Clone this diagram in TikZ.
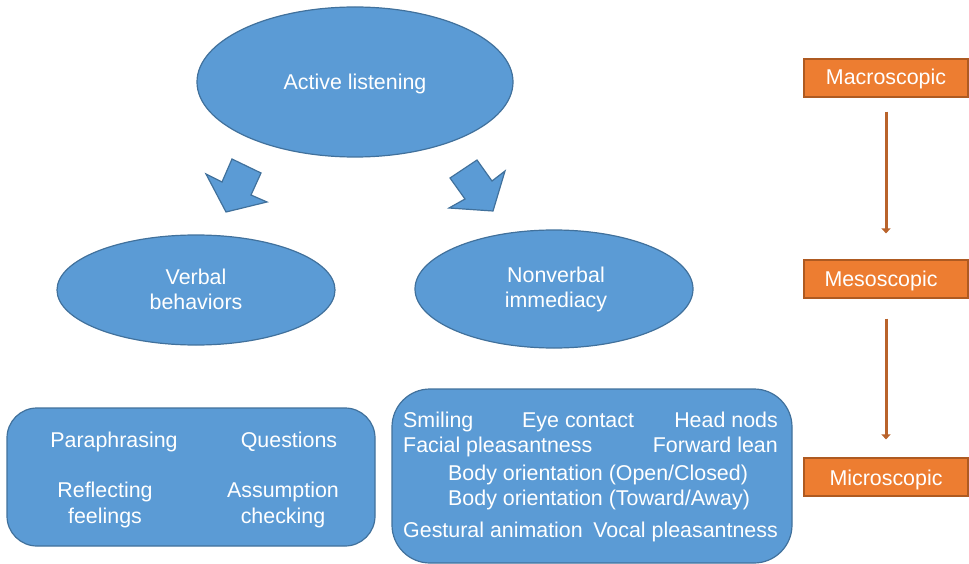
\documentclass[tikz,border=0pt]{standalone}
\usepackage{fontspec}
\setmainfont{Liberation Sans}
\usetikzlibrary{shapes.geometric,arrows.meta}
\definecolor{blueFill}{HTML}{5B9BD5}
\definecolor{blueEdge}{HTML}{41719C}
\definecolor{orangeFill}{HTML}{ED7D31}
\definecolor{orangeEdge}{HTML}{AE5A21}
\definecolor{levelArrow}{HTML}{B9632B}
\begin{document}
\begin{tikzpicture}[x=1pt,y=-1pt,
  lbl/.style={text=white,font=\fontsize{21.4}{25}\selectfont,inner sep=0pt,anchor=base},
  lblL/.style={lbl,anchor=base west},
  lblR/.style={lbl,anchor=base east},
  oval/.style={ellipse,draw=blueEdge,fill=blueFill,line width=1.2pt,inner sep=0pt},
  panel/.style={rectangle,draw=blueEdge,fill=blueFill,line width=1.2pt,inner sep=0pt},
  level/.style={rectangle,draw=orangeEdge,fill=orangeFill,line width=1.2pt,inner sep=0pt,
    minimum width=164pt,minimum height=38pt},
  blockarrow/.style={draw=blueEdge,fill=blueFill,line width=1.2pt,line join=miter},
  down/.style={draw=levelArrow,line width=3pt,-{Triangle[width=9pt,length=5pt]}}
]
\useasboundingbox (0,0) rectangle (969,564);

% top concept and its two branches
\node[oval,minimum width=316pt,minimum height=150pt] (active) at (355,82) {};
\node[lbl] (activeT) at (355,90) {Active listening};

\node[oval,minimum width=278pt,minimum height=110pt] (verbal) at (196,290) {};
\node[lbl] (verbalA) at (196,284) {Verbal};
\node[lbl] (verbalB) at (196,309) {behaviors};

\node[oval,minimum width=278pt,minimum height=118pt] (nonverbal) at (554,289) {};
\node[lbl] (nonverbalA) at (556,282) {Nonverbal};
\node[lbl] (nonverbalB) at (556,307) {immediacy};

% block arrows
\filldraw[blockarrow] (232,159) -- (261,173) -- (251,195) -- (267,202) -- (226,212)
  -- (206,174) -- (222,182) -- cycle;
\filldraw[blockarrow] (450,178) -- (477,160) -- (492,181) -- (505,171) -- (493,211)
  -- (449,208) -- (465,199) -- cycle;

% verbal behaviours panel
\node[panel,rounded corners=30pt,minimum width=368pt,minimum height=138pt] (vpanel) at (191,477) {};
\node[lbl] (para) at (114,447) {Paraphrasing};
\node[lbl] (quest) at (289,447) {Questions};
\node[lbl] (reflA) at (105,497) {Reflecting};
\node[lbl] (reflB) at (105,523) {feelings};
\node[lbl] (assA) at (283,497) {Assumption};
\node[lbl] (assB) at (283,523) {checking};

% nonverbal immediacy panel
\node[panel,rounded corners=38pt,minimum width=400pt,minimum height=174pt] (npanel) at (592,476) {};
\node[lblL] (smile) at (403,427) {Smiling};
\node[lblL] (eye) at (522,427) {Eye contact};
\node[lblR] (nods) at (778,427) {Head nods};
\node[lblL] (facial) at (403,452) {Facial pleasantness};
\node[lblR] (lean) at (778,452) {Forward lean};
\node[lblL] (bodyA) at (448,480) {Body orientation (Open/Closed)};
\node[lblL] (bodyB) at (448,505) {Body orientation (Toward/Away)};
\node[lblL] (gest) at (403,537) {Gestural animation};
\node[lblR] (vocal) at (778,537) {Vocal pleasantness};

% levels of analysis
\node[level] (macro) at (886,78) {};
\node[lbl] (macroT) at (886,85) {Macroscopic};
\node[level] (meso) at (886,279) {};
\node[lbl] (mesoT) at (881,286) {Mesoscopic};
\node[level] (micro) at (886,477) {};
\node[lbl] (microT) at (886,485) {Microscopic};

\draw[down,shorten <=14pt,shorten >=26pt] (macro.south) -- (meso.north);
\draw[down,shorten <=20pt,shorten >=18pt] (meso.south) -- (micro.north);
\end{tikzpicture}
\end{document}
